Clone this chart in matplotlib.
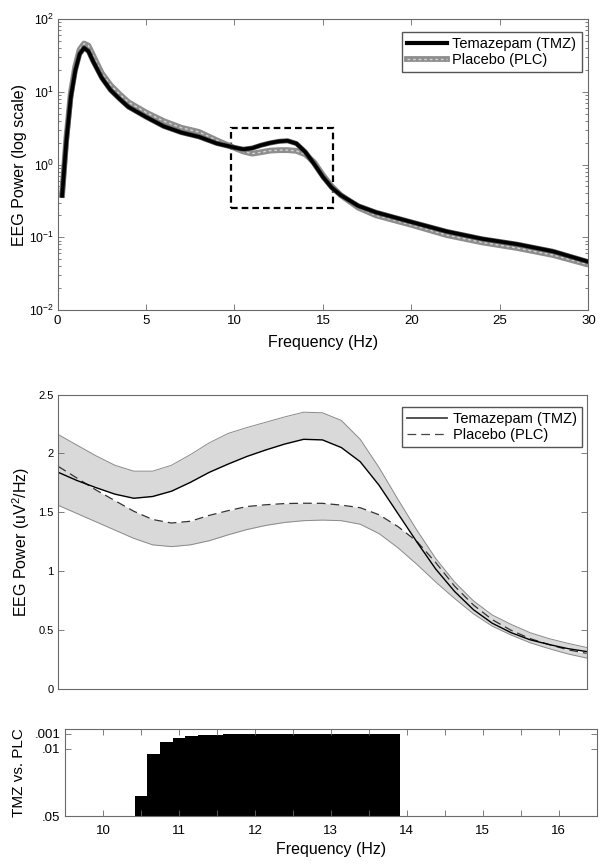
import matplotlib
matplotlib.use("Agg")
import matplotlib.pyplot as plt
from matplotlib.lines import Line2D
from matplotlib.patches import Rectangle
from matplotlib.ticker import LogLocator, NullFormatter

plt.rcParams["font.family"] = ["Liberation Sans", "DejaVu Sans"]
plt.rcParams["mathtext.fontset"] = "custom"
plt.rcParams["mathtext.rm"] = "Liberation Sans"
plt.rcParams["mathtext.it"] = "Liberation Sans:italic"
plt.rcParams["mathtext.bf"] = "Liberation Sans:bold"

# --- full spectrum (top panel) ---
freq_full = [0.25, 0.5, 0.75, 1.0, 1.25, 1.5, 1.75, 2.0, 2.5, 3.0, 3.5, 4.0, 5.0, 6.0,
             7.0, 8.0, 9.0, 10.0, 10.5, 11.0, 11.5, 12.0, 12.5, 13.0, 13.5, 14.0, 14.5,
             15.0, 15.5, 16.0, 17.0, 18.0, 20.0, 22.0, 24.0, 26.0, 28.0, 30.0]
tmz_full = [0.35, 2.1, 8.4, 19.3, 33, 40, 36, 26.5, 15.5, 10.5, 8.0, 6.2, 4.5, 3.35,
            2.75, 2.4, 1.95, 1.71, 1.62, 1.68, 1.84, 1.975, 2.08, 2.12, 1.94, 1.49, 1.02,
            0.675, 0.48, 0.38, 0.27, 0.22, 0.162, 0.12, 0.095, 0.08, 0.064, 0.046]
plc_full = [0.35, 2.3, 9.5, 22, 38, 46, 43, 32, 18, 12.3, 9.3, 7.2, 5.2, 3.95,
            3.2, 2.8, 2.15, 1.69, 1.51, 1.41, 1.475, 1.55, 1.575, 1.577, 1.54, 1.38, 1.075,
            0.715, 0.50, 0.38, 0.255, 0.2, 0.148, 0.107, 0.085, 0.071, 0.057, 0.042]
zoom_box = (9.78, 15.58, 0.255, 3.15)  # f0, f1, p0, p1

# --- 9.5-16.5 Hz window (middle panel) ---
freq_zoom = [9.5, 9.75, 10.0, 10.25, 10.5, 10.75, 11.0, 11.25, 11.5, 11.75, 12.0, 12.25,
             12.5, 12.75, 13.0, 13.25, 13.5, 13.75, 14.0, 14.25, 14.5, 14.75, 15.0, 15.25,
             15.5, 15.75, 16.0, 16.25, 16.5]
tmz_mean = [1.84, 1.77, 1.71, 1.655, 1.62, 1.635, 1.68, 1.755, 1.84, 1.91, 1.975, 2.03,
            2.08, 2.12, 2.115, 2.05, 1.93, 1.73, 1.49, 1.25, 1.02, 0.83, 0.675, 0.56,
            0.48, 0.42, 0.38, 0.345, 0.32]
tmz_upper = [2.16, 2.07, 1.98, 1.90, 1.85, 1.85, 1.90, 1.99, 2.09, 2.17, 2.22, 2.265,
             2.31, 2.35, 2.345, 2.28, 2.12, 1.88, 1.61, 1.35, 1.11, 0.91, 0.75, 0.63,
             0.55, 0.48, 0.43, 0.39, 0.355]
plc_mean = [1.89, 1.79, 1.69, 1.60, 1.51, 1.44, 1.41, 1.425, 1.475, 1.515, 1.55, 1.565,
            1.575, 1.578, 1.577, 1.562, 1.54, 1.48, 1.38, 1.255, 1.075, 0.875, 0.715, 0.59,
            0.50, 0.43, 0.38, 0.335, 0.305]
plc_lower = [1.56, 1.49, 1.42, 1.35, 1.28, 1.225, 1.21, 1.225, 1.26, 1.31, 1.355, 1.39,
             1.415, 1.43, 1.435, 1.43, 1.40, 1.32, 1.20, 1.06, 0.91, 0.77, 0.64, 0.535,
             0.46, 0.395, 0.345, 0.30, 0.265]

# --- significance TMZ vs PLC (bottom panel), 1/6 Hz bins ---
sig_freq = [10.5, 10.667, 10.833, 11.0, 11.167, 11.333, 11.5, 11.667, 11.833, 12.0, 12.167,
            12.333, 12.5, 12.667, 12.833, 13.0, 13.167, 13.333, 13.5, 13.667, 13.833]
sig_p = [0.038, 0.013, 0.0058, 0.0035, 0.0024, 0.0019, 0.0016, 0.0014, 0.0012, 0.0011,
         0.001, 0.001, 0.001, 0.001, 0.001, 0.001, 0.001, 0.001, 0.001, 0.0011, 0.0013]
bin_width = 1 / 6

SPINE = "#6a6a6a"


def style_axes(ax):
    for s in ax.spines.values():
        s.set_color(SPINE)
        s.set_linewidth(0.8)
    ax.tick_params(which="both", direction="in", top=True, right=True,
                   color=SPINE, width=0.6)
    ax.tick_params(which="major", length=4)
    ax.tick_params(which="minor", length=2)


def add_legend(ax, handles, anchor):
    ax.legend(handles, ["Temazepam (TMZ)", "Placebo (PLC)"],
              loc="upper right", bbox_to_anchor=anchor, borderaxespad=0,
              fontsize=10.5, handlelength=2.7, handletextpad=0.4, labelspacing=0.15,
              borderpad=0.35, fancybox=False, framealpha=1, edgecolor="#555555")


fig = plt.figure(figsize=(6.04, 8.64), dpi=100)

# ---------------- top panel ----------------
ax1 = fig.add_axes([0.0952, 0.6412, 0.879, 0.3368])
ax1.plot(freq_full, plc_full, color="#8e8e8e", lw=4.2, solid_capstyle="butt")
ax1.plot(freq_full, plc_full, color="#d2d2d2", lw=1.0, ls=(0, (2, 2)))
ax1.plot(freq_full, tmz_full, color="#555555", lw=3.6, solid_capstyle="butt")
ax1.plot(freq_full, tmz_full, color="black", lw=2.6, solid_capstyle="butt")
f0, f1, p0, p1 = zoom_box
ax1.add_patch(Rectangle((f0, p0), f1 - f0, p1 - p0, fill=False, ec="black",
                        lw=1.6, ls=(0, (3, 1.8))))
ax1.set_yscale("log")
ax1.set_xlim(0, 30)
ax1.set_ylim(1e-2, 1e2)
ax1.set_xticks(range(0, 31, 5))
ax1.yaxis.set_minor_locator(LogLocator(base=10, subs=range(2, 10)))
ax1.yaxis.set_minor_formatter(NullFormatter())
style_axes(ax1)
ax1.tick_params(axis="x", labelsize=9.5)
ax1.tick_params(axis="y", labelsize=8.8, pad=2.5)
ax1.set_xlabel("Frequency (Hz)", fontsize=11.5)
ax1.xaxis.set_label_coords(0.5, -0.085)
ax1.set_ylabel("EEG Power (log scale)", fontsize=11.5)
ax1.yaxis.set_label_coords(-0.058, 0.5)

h_tmz = Line2D([], [], color="black", lw=3)
h_plc = (Line2D([], [], color="#8e8e8e", lw=4.2),
         Line2D([], [], color="#d2d2d2", lw=1.0, ls=(0, (2, 2))))
add_legend(ax1, [h_tmz, h_plc], (0.987, 0.956))

# ---------------- middle panel ----------------
ax2 = fig.add_axes([0.0965, 0.2022, 0.8748, 0.3412])
ax2.fill_between(freq_zoom, tmz_mean, tmz_upper, color="#d9d9d9", lw=0)
ax2.fill_between(freq_zoom, plc_lower, plc_mean, color="#d9d9d9", lw=0)
ax2.plot(freq_zoom, tmz_upper, color="#8a8a8a", lw=0.7)
ax2.plot(freq_zoom, plc_lower, color="#8a8a8a", lw=0.7)
ax2.plot(freq_zoom, plc_mean, color="#333333", lw=0.9, ls=(0, (7, 4)))
ax2.plot(freq_zoom, tmz_mean, color="black", lw=1.0)
ax2.set_xlim(9.5, 16.5)
ax2.set_ylim(0, 2.5)
ax2.set_xticks([])
ax2.set_yticks([0, 0.5, 1, 1.5, 2, 2.5])
ax2.set_yticklabels(["0", "0.5", "1", "1.5", "2", "2.5"])
style_axes(ax2)
ax2.tick_params(labelsize=8)
ax2.set_ylabel("EEG Power (uV$^2$/Hz)", fontsize=11.5)
ax2.yaxis.set_label_coords(-0.05, 0.5)
add_legend(ax2, [Line2D([], [], color="#444444", lw=1.3),
                 Line2D([], [], color="#444444", lw=0.9, ls=(0, (7, 4)))],
           (0.9905, 0.9586))

# ---------------- bottom panel ----------------
ax3 = fig.add_axes([0.108, 0.055, 0.8796, 0.1013])
edges = [f - bin_width / 2 for f in sig_freq] + [sig_freq[-1] + bin_width / 2]
ax3.stairs(sig_p, edges, baseline=0.05, fill=True, color="black")
ax3.set_xlim(9.5, 16.5)
ax3.set_ylim(0.05, -0.0018)
ax3.set_yticks([0.001, 0.01, 0.05])
ax3.set_yticklabels([".001", ".01", ".05"])
xt = [9.5 + 0.5 * i for i in range(15)]
ax3.set_xticks(xt)
ax3.set_xticklabels([str(int(v)) if v == int(v) else "" for v in xt])
style_axes(ax3)
ax3.tick_params(labelsize=9.5)
ax3.tick_params(axis="x", pad=6)
ax3.set_xlabel("Frequency (Hz)", fontsize=11.5)
ax3.xaxis.set_label_coords(0.5, -0.29)
ax3.set_ylabel("TMZ vs. PLC", fontsize=11)
ax3.yaxis.set_label_coords(-0.074, 0.5)

fig.savefig("out.png", dpi=100)
